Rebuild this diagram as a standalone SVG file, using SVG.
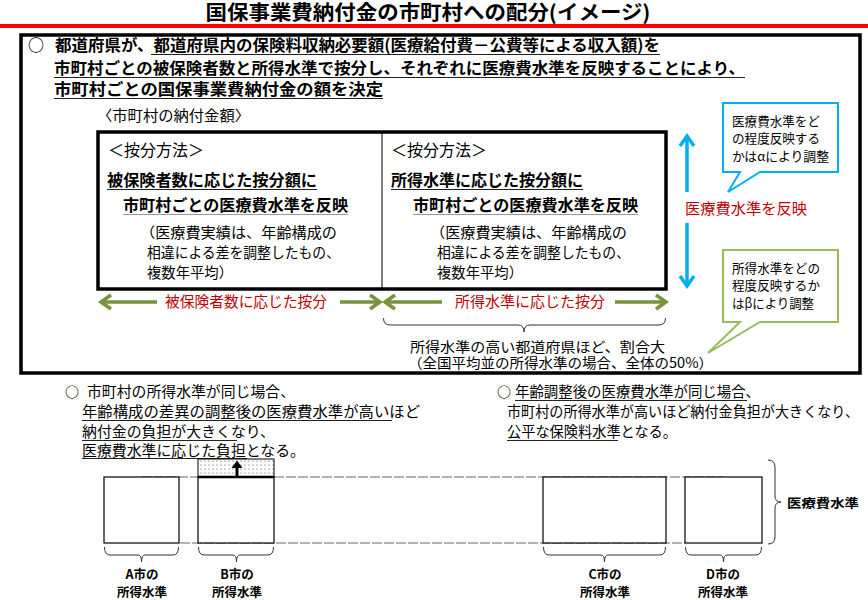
<svg xmlns="http://www.w3.org/2000/svg" width="868" height="600" viewBox="0 0 868 600">
<defs>
<style>
text{font-family:"Noto Sans CJK JP","Noto Sans",sans-serif;fill:#000}
.t{font-size:20px;font-weight:700}
.h{font-size:16px;font-weight:700}
.m{font-size:16px}
.mb{font-size:16px;font-weight:600}
.s{font-size:14.5px}
.o{font-size:14px;font-weight:700}
.r{font-size:15px;fill:#C00000}
.c{font-size:13px}
.lb{font-size:12.5px;font-weight:700}
.ul{stroke:#222;stroke-width:1.2}
.ulg{stroke:#999;stroke-width:1.2}
.thin{fill:none;stroke:#333;stroke-width:1}
.ga{fill:none;stroke:#77933C;stroke-width:3.5;stroke-linecap:butt}
.ba{fill:none;stroke:#00B0F0;stroke-width:3.5}
.bar{fill:#fff;stroke:#000;stroke-width:1.2}
</style>
<pattern id="dots" width="4" height="4" patternUnits="userSpaceOnUse">
<rect width="4" height="4" fill="#fff"/>
<circle cx="1" cy="1" r="0.6" fill="#444"/>
</pattern>
</defs>
<rect width="868" height="600" fill="#fff"/>

<g id="title">
<text class="t" x="428" y="20" text-anchor="middle" textLength="445" lengthAdjust="spacingAndGlyphs">国保事業費納付金の市町村への配分(イメージ)</text>
<rect x="0" y="24" width="868" height="4" fill="#FF0000"/>
</g>

<g id="frame">
<rect x="21" y="35" width="839" height="338" fill="none" stroke="#000" stroke-width="3.5"/>
</g>

<g id="intro">
<text x="28" y="51" font-size="16" font-weight="700">○</text>
<text class="h" x="55" y="51" textLength="605" lengthAdjust="spacingAndGlyphs">都道府県が、都道府県内の保険料収納必要額(医療給付費－公費等による収入額)を</text>
<line class="ul" x1="151" y1="54.5" x2="660" y2="54.5"/>
<text class="h" x="54" y="74" textLength="691" lengthAdjust="spacingAndGlyphs">市町村ごとの被保険者数と所得水準で按分し、それぞれに医療費水準を反映することにより、</text>
<line class="ul" x1="54" y1="77.5" x2="745" y2="77.5"/>
<text class="h" x="54" y="95" textLength="329" lengthAdjust="spacingAndGlyphs">市町村ごとの国保事業費納付金の額を決定</text>
<line class="ul" x1="54" y1="98.5" x2="383" y2="98.5"/>
<text class="s" x="97" y="121" textLength="153" lengthAdjust="spacingAndGlyphs">〈市町村の納付金額〉</text>
</g>

<g id="allocation-box">
<rect x="98" y="132" width="568" height="157" fill="#fff" stroke="#000" stroke-width="3.5"/>
<line x1="382" y1="133" x2="382" y2="288" stroke="#000" stroke-width="1"/>
</g>

<g id="left-cell">
<text class="m" x="108" y="156" textLength="96" lengthAdjust="spacingAndGlyphs">＜按分方法＞</text>
<text class="mb" x="107" y="186" textLength="210" lengthAdjust="spacingAndGlyphs">被保険者数に応じた按分額に</text>
<line class="ul" x1="107" y1="189.5" x2="317" y2="189.5"/>
<text class="mb" x="123" y="211" textLength="225" lengthAdjust="spacingAndGlyphs">市町村ごとの医療費水準を反映</text>
<line class="ulg" x1="123" y1="214.5" x2="348" y2="214.5" stroke-width="1.6"/>
<text class="s" x="140" y="238" textLength="197" lengthAdjust="spacingAndGlyphs">（医療費実績は、年齢構成の</text>
<text class="s" x="147" y="258" textLength="193" lengthAdjust="spacingAndGlyphs">相違による差を調整したもの、</text>
<text class="s" x="147" y="278" textLength="86" lengthAdjust="spacingAndGlyphs">複数年平均）</text>
</g>

<g id="right-cell">
<text class="m" x="391" y="156" textLength="96" lengthAdjust="spacingAndGlyphs">＜按分方法＞</text>
<text class="mb" x="391" y="186" textLength="192" lengthAdjust="spacingAndGlyphs">所得水準に応じた按分額に</text>
<line class="ul" x1="391" y1="189.5" x2="583" y2="189.5"/>
<text class="mb" x="413" y="211" textLength="225" lengthAdjust="spacingAndGlyphs">市町村ごとの医療費水準を反映</text>
<line class="ulg" x1="413" y1="214.5" x2="638" y2="214.5" stroke-width="1.6"/>
<text class="s" x="430" y="238" textLength="197" lengthAdjust="spacingAndGlyphs">（医療費実績は、年齢構成の</text>
<text class="s" x="437" y="258" textLength="193" lengthAdjust="spacingAndGlyphs">相違による差を調整したもの、</text>
<text class="s" x="437" y="278" textLength="86" lengthAdjust="spacingAndGlyphs">複数年平均）</text>
</g>

<g id="allocation-labels">
<text class="r" x="246" y="307" text-anchor="middle" textLength="162" lengthAdjust="spacingAndGlyphs">被保険者数に応じた按分</text>
<text class="r" x="530" y="307" text-anchor="middle" textLength="150" lengthAdjust="spacingAndGlyphs">所得水準に応じた按分</text>
<text class="r" x="685" y="214" textLength="122" lengthAdjust="spacingAndGlyphs">医療費水準を反映</text>
</g>

<g id="income-brace">
<path class="thin" d="M383.5 318 Q383.5 325 390 325 L518 325 Q524 325 524 332 Q524 325 530 325 L659 325 Q665.5 325 665.5 318"/>
<text x="410" y="352" font-size="14" textLength="255" lengthAdjust="spacingAndGlyphs">所得水準の高い都道府県ほど、割合大</text>
<text x="408" y="368" font-size="14" textLength="305" lengthAdjust="spacingAndGlyphs">（全国平均並の所得水準の場合、全体の50%）</text>
</g>

<g id="callout-alpha">
<path d="M723 103 H838 V172 H760 L728 192 L740 172 H723 Z" fill="#fff" stroke="#00B0F0" stroke-width="2"/>
<text class="c" x="732" y="126" textLength="88" lengthAdjust="spacingAndGlyphs">医療費水準をど</text>
<text class="c" x="732" y="143" textLength="88" lengthAdjust="spacingAndGlyphs">の程度反映する</text>
<text class="c" x="732" y="161" textLength="97" lengthAdjust="spacingAndGlyphs">かはαにより調整</text>
</g>

<g id="callout-beta">
<path d="M723 250 H838 V322 H760 L708 353 L740 322 H723 Z" fill="#fff" stroke="#9BBB59" stroke-width="2"/>
<text class="c" x="732" y="273" textLength="88" lengthAdjust="spacingAndGlyphs">所得水準をどの</text>
<text class="c" x="732" y="290" textLength="88" lengthAdjust="spacingAndGlyphs">程度反映するか</text>
<text class="c" x="732" y="308" textLength="82" lengthAdjust="spacingAndGlyphs">はβにより調整</text>
</g>

<g id="note-left">
<text class="o" x="65" y="397">○</text>
<text class="s" x="87" y="397" textLength="208" lengthAdjust="spacingAndGlyphs">市町村の所得水準が同じ場合、</text>
<text class="s" x="82" y="417" textLength="338" lengthAdjust="spacingAndGlyphs">年齢構成の差異の調整後の医療費水準が高いほど</text>
<line class="ul" x1="82" y1="420.5" x2="392" y2="420.5"/>
<text class="s" x="82" y="437" textLength="193" lengthAdjust="spacingAndGlyphs">納付金の負担が大きくなり、</text>
<line class="ul" x1="82" y1="440.5" x2="237" y2="440.5"/>
<text class="s" x="82" y="456" textLength="223" lengthAdjust="spacingAndGlyphs">医療費水準に応じた負担となる。</text>
<line class="ul" x1="82" y1="458.5" x2="247" y2="458.5"/>
</g>

<g id="note-right">
<text class="o" x="497" y="397">○</text>
<text class="s" x="515" y="397" textLength="245" lengthAdjust="spacingAndGlyphs">年齢調整後の医療費水準が同じ場合、</text>
<line class="ul" x1="515" y1="400.5" x2="747" y2="400.5"/>
<text class="s" x="507" y="417" textLength="352" lengthAdjust="spacingAndGlyphs">市町村の所得水準が高いほど納付金負担が大きくなり、</text>
<text class="s" x="507" y="437" textLength="170" lengthAdjust="spacingAndGlyphs">公平な保険料水準となる。</text>
<line class="ul" x1="507" y1="440.5" x2="618" y2="440.5"/>
</g>

<g id="level-lines">
<line x1="142" y1="477" x2="723" y2="477" stroke="#9a9a9a" stroke-width="1.5" stroke-dasharray="10 2"/>
<line x1="180" y1="543" x2="685" y2="543" stroke="#9a9a9a" stroke-width="1.5" stroke-dasharray="10 2"/>
</g>

<g id="city-a">
<rect class="bar" x="104" y="477" width="75" height="66"/>
<path class="thin" d="M104.5 547 Q104.5 555 110 555 L138 555 Q141.5 555 141.5 562 Q141.5 555 145 555 L173 555 Q178.5 555 178.5 547"/>
<text class="lb" x="142" y="579" text-anchor="middle">A市の</text>
<text class="lb" x="142" y="597" text-anchor="middle">所得水準</text>
</g>

<g id="city-b">
<rect x="198" y="459" width="76" height="18" fill="url(#dots)" stroke="#000" stroke-width="1"/>
<rect class="bar" x="198" y="477" width="76" height="66"/>
<line x1="198" y1="477" x2="274" y2="477" stroke="#000" stroke-width="2.5"/>
<path class="thin" d="M198.5 547 Q198.5 555 204 555 L233 555 Q236.5 555 236.5 562 Q236.5 555 240 555 L268 555 Q273.5 555 273.5 547"/>
<text class="lb" x="237" y="579" text-anchor="middle">B市の</text>
<text class="lb" x="237" y="597" text-anchor="middle">所得水準</text>
</g>

<g id="city-c">
<rect class="bar" x="543" y="477" width="123" height="66"/>
<path class="thin" d="M543.5 547 Q543.5 555 549 555 L601 555 Q604.5 555 604.5 562 Q604.5 555 608 555 L660 555 Q665.5 555 665.5 547"/>
<text class="lb" x="605" y="579" text-anchor="middle">C市の</text>
<text class="lb" x="605" y="597" text-anchor="middle">所得水準</text>
</g>

<g id="city-d">
<rect class="bar" x="685" y="477" width="77" height="66"/>
<path class="thin" d="M685.5 547 Q685.5 555 691 555 L720 555 Q723.5 555 723.5 562 Q723.5 555 727 555 L756 555 Q761.5 555 761.5 547"/>
<text class="lb" x="723" y="579" text-anchor="middle">D市の</text>
<text class="lb" x="723" y="597" text-anchor="middle">所得水準</text>
</g>

<g id="medical-level">
<path class="thin" d="M768 460 Q775 460 775 467 L775 496 Q775 502 781 502 Q775 502 775 508 L775 537 Q775 544 768 544"/>
<text class="lb" x="787" y="508" font-size="14" textLength="72" lengthAdjust="spacingAndGlyphs">医療費水準</text>
</g>

<g id="connectors">
<line class="ga" x1="101" y1="302" x2="157" y2="302"/>
<polyline class="ga" points="111,295 101,302 111,309"/>
<line class="ga" x1="340" y1="302" x2="380" y2="302"/>
<polyline class="ga" points="370,295 380,302 370,309"/>
<line class="ga" x1="385" y1="302" x2="442" y2="302"/>
<polyline class="ga" points="395,295 385,302 395,309"/>
<line class="ga" x1="615" y1="302" x2="666" y2="302"/>
<polyline class="ga" points="656,295 666,302 656,309"/>
<line class="ba" x1="687" y1="137" x2="687" y2="192"/>
<polyline class="ba" points="680,146 687,136 694,146"/>
<line class="ba" x1="687" y1="223" x2="687" y2="285"/>
<polyline class="ba" points="680,276 687,286 694,276"/>
<line x1="237" y1="476" x2="237" y2="467" stroke="#000" stroke-width="3"/>
<polygon points="231.5,468 237,460.5 242.5,468" fill="#000"/>
</g>
</svg>
